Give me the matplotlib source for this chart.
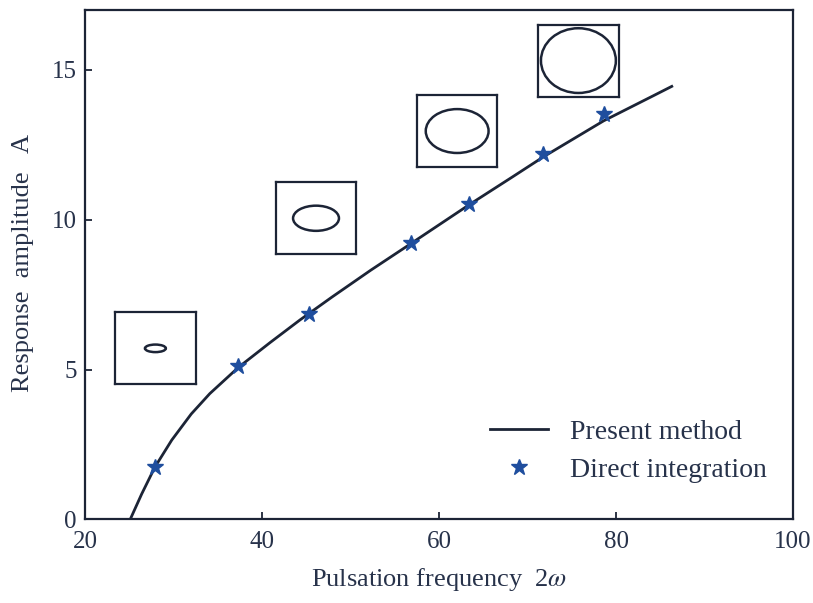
import numpy as np
import matplotlib
matplotlib.use("Agg")
import matplotlib.pyplot as plt
from matplotlib.patches import Ellipse

# present method curve
curve_x = [25.1, 26.4, 27.9, 29.8, 32.0, 34.1, 37.35, 40.9, 44.3, 47.9,
           52.3, 56.8, 63.4, 68.25, 71.8, 78.6, 84.3, 86.3]
curve_y = [0.0, 0.85, 1.75, 2.65, 3.52, 4.2, 5.08, 5.9, 6.66, 7.42,
           8.32, 9.2, 10.5, 11.42, 12.1, 13.3, 14.15, 14.45]

# direct integration points
star_x = [27.9, 37.3, 45.3, 56.8, 63.4, 71.8, 78.6]
star_y = [1.76, 5.12, 6.85, 9.21, 10.54, 12.21, 13.54]

# inset boxes: lower-left corner (x, y) in data units, ellipse semi-axes
box_x = [23.4, 41.55, 57.5, 71.2]
box_y = [4.51, 8.85, 11.76, 14.11]
ell_a = [0.26, 0.57, 0.78, 0.93]
ell_b = [0.105, 0.35, 0.61, 0.90]
box_w = 9.1
box_h = 2.4

x_ticks = [20, 40, 60, 80, 100]
y_ticks = [0, 5, 10, 15]

ink = "#1c2436"
txt = "#27324a"
blue = "#1f4e9e"

plt.rcParams['font.family'] = ['Liberation Serif', 'DejaVu Serif']
plt.rcParams['mathtext.fontset'] = 'stix'

fig = plt.figure(figsize=(8.13, 6.03), dpi=100)
ax = fig.add_axes([0.1046, 0.1385, 0.8708, 0.845])

ax.plot(curve_x, curve_y, color=ink, lw=2.0, solid_joinstyle="round",
        label="Present method")
ax.plot(star_x, star_y, linestyle="none", marker="*", markersize=12,
        color=blue, label="Direct integration")

ax.set_xlim(20, 100)
ax.set_ylim(0, 17.0)
ax.set_xticks(x_ticks)
ax.set_yticks(y_ticks)
ax.tick_params(direction="in", length=5, width=1.3, labelsize=18,
               colors=ink, labelcolor=txt)
ax.tick_params(axis="x", pad=8)
ax.tick_params(axis="y", pad=6)
for s in ax.spines.values():
    s.set_linewidth(1.6)
    s.set_color(ink)

ax.set_xlabel("Pulsation frequency  2$\\omega$", fontsize=19, color=txt)
ax.xaxis.set_label_coords(0.5, -0.091)
ax.set_ylabel("Response  amplitude   A", fontsize=19, color=txt)
ax.yaxis.set_label_coords(-0.072, 0.503)

ax.legend(loc="lower right", bbox_to_anchor=(0.979, 0.05), borderaxespad=0,
          frameon=False, fontsize=20, handlelength=2.1, labelcolor=txt,
          handletextpad=0.8, labelspacing=0.45)

# phase portrait insets
for bx, by, a, b in zip(box_x, box_y, ell_a, ell_b):
    ins = ax.inset_axes([bx, by, box_w, box_h], transform=ax.transData)
    ins.set_xlim(-1, 1)
    ins.set_ylim(-1, 1)
    ins.set_xticks([])
    ins.set_yticks([])
    for s in ins.spines.values():
        s.set_linewidth(1.6)
        s.set_color(ink)
    ins.add_patch(Ellipse((0, 0), 2 * a, 2 * b, fill=False, lw=1.8,
                          edgecolor=ink))

fig.savefig("out.png", dpi=100)
